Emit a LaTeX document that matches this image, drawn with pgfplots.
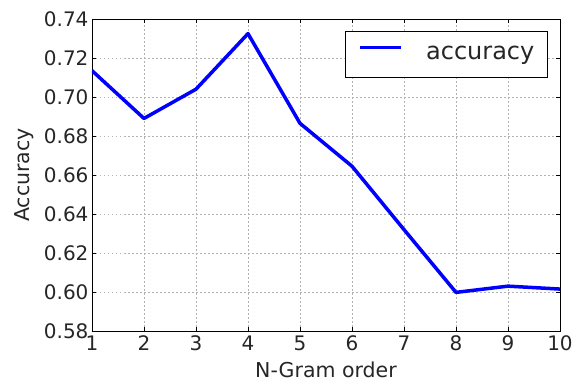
\documentclass[border=0pt]{standalone}
\usepackage{fontspec}
\setmainfont{DejaVu Sans}
\usepackage{pgfplots}
\pgfplotsset{compat=1.18}

\begin{document}
\begin{tikzpicture}
  % fixed canvas so the axis sits at a known place
  \useasboundingbox (0pt,0pt) rectangle (573pt,382pt);
  \begin{axis}[
    at={(92pt,51pt)}, anchor=south west,
    scale only axis,
    width=468pt, height=312pt,
    xmin=1, xmax=10, ymin=0.58, ymax=0.74,
    xtick={1,2,...,10},
    ytick={0.58,0.60,...,0.741},
    yticklabel style={/pgf/number format/.cd, fixed, fixed zerofill, precision=2},
    /pgf/number format/assume math mode=true,
    tick label style={font=\fontsize{20}{24}\selectfont, text=black!85},
    xticklabel style={yshift=-1pt},
    label style={font=\fontsize{20.5}{24}\selectfont, text=black!85},
    xlabel={N-Gram order},
    ylabel={Accuracy},
    xlabel style={yshift=-4pt},
    ylabel style={yshift=3pt},
    tick align=inside,
    major tick length=4pt,
    tick style={black, line width=0.6pt},
    axis line style={black, line width=0.9pt},
    grid=major,
    major grid style={gray!60, line width=0.55pt, dash pattern=on 1.5pt off 2.5pt},
    legend style={
      at={(0.974,0.9615)}, anchor=north east,
      draw=black, line width=0.9pt,
      font=\fontsize{24}{28}\selectfont, text=black!85,
      inner xsep=13pt, inner ysep=11.5pt,
      nodes={inner sep=0pt, text height=17pt, text depth=6pt},
    },
    % short line sample followed by a gap before the entry text
    legend image code/.code={
      \draw[#1] (0pt,7pt) -- (41pt,7pt);
      \path (64pt,7pt);
    },
  ]
    \addplot[blue, line width=3.5pt, line join=round] coordinates {
      (1,0.7135) (2,0.689) (3,0.704) (4,0.7325) (5,0.6865)
      (6,0.6645) (7,0.632) (8,0.5998) (9,0.603) (10,0.6015)
    };
    \addlegendentry{accuracy}
  \end{axis}
\end{tikzpicture}
\end{document}
